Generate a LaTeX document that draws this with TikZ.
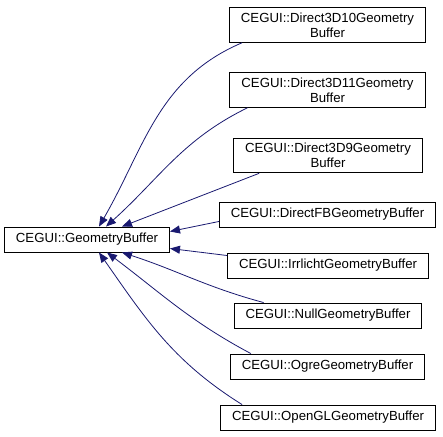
\documentclass[tikz,border=0pt]{standalone}
\usepackage{fontspec}
\setmainfont{Liberation Sans}
\usetikzlibrary{arrows.meta}
\definecolor{midnightblue}{RGB}{25,25,112}

\begin{document}
\begin{tikzpicture}[x=1pt,y=-1pt,>={Triangle[length=10pt,width=8pt]},
    cls/.style={draw=black,line width=0.9pt,inner xsep=11.5pt,inner ysep=5pt,minimum height=25pt,align=center,font=\fontsize{13.2}{15}\selectfont},
    inh/.style={->,draw=midnightblue,line width=0.8pt}]
    \useasboundingbox (0,0) rectangle (443,436);
    % base class
    \node[cls] (base) at (87,239.5) {CEGUI::GeometryBuffer};
    % derived classes
    \node[cls] (d3d10) at (327.5,25) {CEGUI::Direct3D10Geometry\\Buffer};
    \node[cls] (d3d11) at (327.5,90) {CEGUI::Direct3D11Geometry\\Buffer};
    \node[cls] (d3d9) at (328,155.5) {CEGUI::Direct3D9Geometry\\Buffer};
    \node[cls] (dfb) at (327.5,214.5) {CEGUI::DirectFBGeometryBuffer};
    \node[cls] (irr) at (328,265.5) {CEGUI::IrrlichtGeometryBuffer};
    \node[cls] (null) at (328,315.5) {CEGUI::NullGeometryBuffer};
    \node[cls] (ogre) at (327.5,366.5) {CEGUI::OgreGeometryBuffer};
    \node[cls] (ogl) at (328,417.5) {CEGUI::OpenGLGeometryBuffer};
    % inheritance
    \draw[inh] ([xshift=13pt]d3d10.south west) to[out=203,in=60] ([xshift=12pt]base.north);
    \draw[inh] ([xshift=18pt]d3d11.south west) to[out=206,in=42] ([xshift=19pt]base.north);
    \draw[inh] ([xshift=26pt]d3d9.south west) -- ([xshift=35pt]base.north);
    \draw[inh] ([yshift=-7pt]dfb.west) -- ([yshift=8pt]base.east);
    \draw[inh] ([yshift=10pt]irr.west) -- ([yshift=-9pt]base.east);
    \draw[inh] ([xshift=30pt]null.north west) to[out=165,in=-18] ([xshift=35pt]base.south);
    \draw[inh] ([xshift=21pt]ogre.north west) to[out=152,in=-37] ([xshift=20pt]base.south);
    \draw[inh] ([xshift=22pt]ogl.north west) to[out=148,in=-55] ([xshift=12pt]base.south);
\end{tikzpicture}
\end{document}
